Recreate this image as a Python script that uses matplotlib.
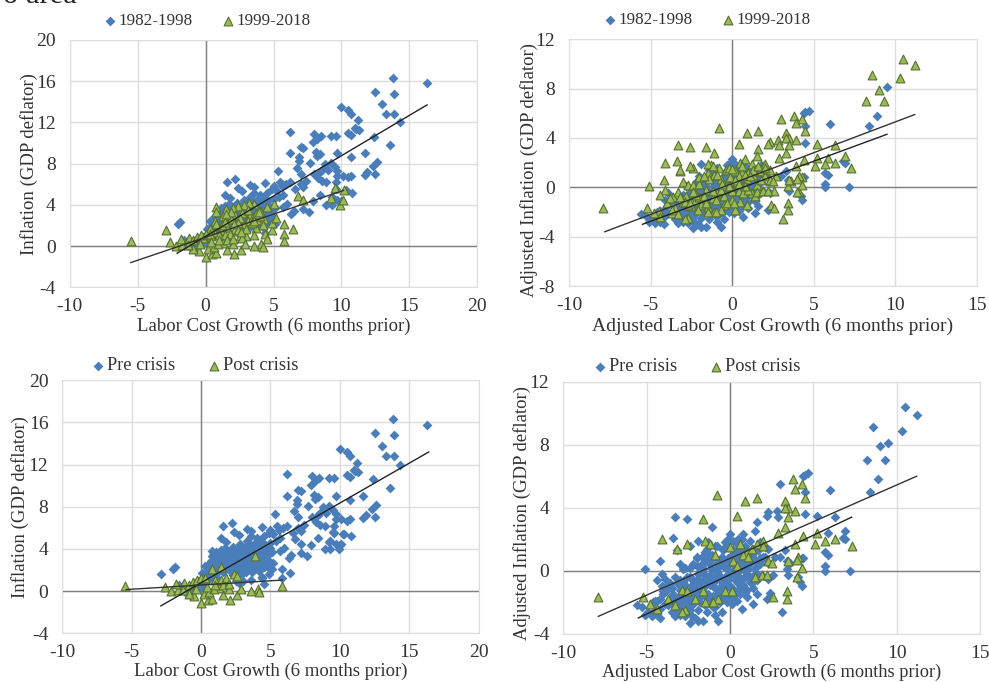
import matplotlib
matplotlib.use('Agg')
from matplotlib import pyplot as plt

plt.rcParams['font.family'] = ['Liberation Serif', 'DejaVu Serif']
plt.rcParams['axes.unicode_minus'] = False

# raw labor cost growth vs inflation
lcg_old = [16.3,13.8,13.9,12.5,13.0,13.3,13.9,14.3,13.6,10.0,10.5,10.7,11.2,11.1,11.0,11.3,10.5,10.7,12.4,6.2,8.0,8.5,8.2,7.9,9.2,9.6,7.0,7.2,6.2,8.1,8.4,8.2,9.7,11.7,10.7,6.9,6.9,7.7,8.8,9.2,12.6,12.3,11.9,11.7,12.5,7.0,6.7,5.3,8.0,8.4,8.6,9.0,9.5,9.7,9.7,10.1,10.5,10.7,8.3,8.6,8.9,9.6,7.4,7.0,6.2,5.9,5.5,5.0,4.4,2.2,1.6,3.3,3.6,2.4,2.7,1.4,1.8,7.2,6.6,5.7,8.4,7.9,9.6,10.3,10.8,9.7,10.0,8.9,9.3,9.3,6.0,5.7,6.5,6.3,7.2,7.6,-2.0,-1.9,-1.3,-1.0,-0.8,-0.5,-0.3,0.0,0.2,0.3,0.5,0.6,0.9,1.0,1.2,1.4,1.5,1.7,1.9,2.0,2.2,2.3,2.5,2.6,2.8,2.9,3.1,3.2,3.3,3.4,3.5,3.6,3.7,3.8,3.9,4.0,4.1,4.2,4.3,4.4,4.5,4.6,4.7,4.8,4.9,5.0,5.1,5.2,5.4,5.6,4.4,5.1,-1.6,-1.1,-0.6,-0.2,0.4,0.8,1.1,1.6,2.1,2.7,3.0,3.4,4.0,4.6,
           0.7,1.0,1.3,1.6,1.9,2.2,2.5,2.8,3.1,3.4,3.7,4.0,4.3,4.6,4.9,0.9,1.2,1.5,1.8,2.1,2.4,2.7,3.0,3.3,3.6,3.9,4.2,4.5,4.8,1.1,1.4,1.7,2.0,2.3,2.6,2.9,3.2,3.5,3.8,4.1,4.4,4.7,1.3,1.6,1.9,2.2,2.5,2.8,3.1,3.4,3.7,4.0,4.3,0.2,0.5,-0.2,-0.5,-0.8,-1.2,0.1]
inf_old = [15.8,16.3,14.8,15.0,13.8,12.8,12.8,12.0,9.8,13.5,13.2,12.8,12.2,11.4,11.5,11.3,11.0,10.8,10.6,11.1,10.9,10.7,10.4,10.1,10.7,10.7,9.6,9.5,9.0,9.1,8.9,8.7,9.0,9.0,8.6,8.6,8.3,8.1,8.0,8.1,8.2,7.8,7.2,6.9,7.0,7.0,7.6,7.3,7.0,7.2,7.4,7.4,7.7,7.3,6.8,6.8,6.7,6.8,6.6,6.3,6.2,6.2,6.3,6.0,6.2,6.0,6.2,5.8,6.1,6.5,6.2,5.9,5.7,5.6,5.3,5.0,4.7,5.7,5.5,5.0,5.0,4.4,5.5,5.4,5.2,4.5,4.4,4.0,4.0,4.8,4.1,3.8,3.4,3.1,3.6,3.3,2.1,2.3,0.5,-0.3,-0.4,0.0,0.5,0.3,1.3,2.4,2.0,2.6,2.9,2.3,3.0,2.7,3.3,2.2,3.4,2.8,3.6,4.2,3.3,2.5,4.5,3.6,2.8,1.8,4.8,3.9,3.0,5.2,2.3,4.5,3.6,5.0,2.9,1.9,3.9,3.1,5.2,4.4,3.4,2.8,5.5,4.6,3.7,5.4,4.8,5.8,1.3,2.1,0.6,0.0,0.7,0.9,1.6,1.8,1.3,2.7,2.5,1.9,2.1,2.6,3.3,2.4,
           2.9,3.2,3.6,3.1,3.9,2.7,3.7,3.2,4.1,3.4,3.9,3.2,3.6,2.9,3.5,2.5,2.8,2.6,3.0,2.4,2.9,2.6,3.1,2.5,2.9,2.6,3.0,2.3,3.0,3.7,3.9,4.1,3.5,3.3,4.0,4.3,3.7,4.4,3.3,4.3,4.7,3.9,2.1,1.8,2.2,2.0,2.2,1.9,2.2,2.1,2.0,2.2,2.4,0.8,1.1,0.2,0.1,-0.1,0.1,1.7]

# green points that fall in the pre crisis group
lcg_mid = [-2.9,5.8,5.8,6.4,4.9,4.9,5.2,5.0,4.5,4.0,3.6,3.2,2.8,2.4,2.0,1.5,0.8,0.8,3.7,4.3,3.8,3.3,2.7,2.2,1.9,0.7,1.1,2.3,2.7,3.1,3.5,2.5,3.0,6.8,7.2,9.5,10.2,9.2,9.9,10.1,4.4,4.5,3.6,0.1,
           0.4,1.0,1.6,2.2,2.8,3.4,4.0,1.3,1.9,2.5,3.1,3.7,0.6,1.2,1.8,2.4,3.0,3.6,4.2,0.3,-0.2,1.5,2.1,2.7]
inf_mid = [1.6,1.2,2.1,1.7,1.6,2.2,2.7,4.1,3.8,3.4,4.1,4.2,4.0,3.9,3.7,3.6,3.8,3.3,1.8,2.6,2.5,3.0,3.2,3.0,2.6,2.4,1.6,1.5,1.5,2.4,2.8,1.0,1.0,4.9,4.5,5.6,5.4,4.7,4.0,4.5,1.2,0.7,1.1,0.9,
           1.0,1.2,1.9,1.7,2.1,2.2,2.9,2.9,3.3,2.7,3.5,3.1,1.4,2.0,0.9,2.2,1.7,2.4,2.0,1.7,0.8,3.1,2.1,0.8]

# post crisis points
lcg_post = [-5.5,-2.6,-2.2,-1.7,-1.8,-1.2,-0.9,-0.6,-0.3,0.0,0.3,0.8,1.4,1.0,1.4,1.8,2.4,2.6,3.9,5.8,4.1,4.2,3.6,2.6,2.1,1.6,0.0,0.5,0.8,0.2,0.6,-0.5,-0.9,2.9,2.0,1.3,0.9,-0.4,1.6,2.0,1.0,0.4,-1.3]
inf_post = [0.5,0.4,0.0,0.1,0.7,0.8,0.6,0.9,1.1,1.2,1.2,2.1,2.3,1.1,1.1,1.2,1.6,1.4,3.3,0.5,0.2,-0.1,0.0,-0.4,-0.8,-0.4,-1.1,-0.8,-0.7,-0.3,-0.1,-0.5,-0.3,0.2,0.2,0.3,0.2,0.2,0.6,0.7,0.6,0.4,0.1]

# adjusted series
adj_x_old = [9.5,8.9,8.4,6.0,4.7,4.5,4.4,4.5,4.5,7.2,5.7,5.7,5.7,5.9,6.9,6.8,4.3,0.0,-0.1,-5.6,-5.3,-5.1,-4.9,-4.7,-4.5,-4.4,-4.2,-4.6,-4.2,-4.1,-3.9,-3.7,-3.5,-3.3,-3.2,-3.0,-2.9,-2.7,-2.4,-2.3,-2.1,-1.9,-1.6,-0.7,-0.9,-0.5,0.1,0.7,1.4,1.6,2.2,-3.8,-3.4,-3.1,-2.8,-2.5,-2.2,-2.0,-1.8,-1.5,-1.3,-1.1,-0.9,-0.6,-0.4,-0.2,0.0,0.2,0.4,0.6,0.8,1.0,1.2,1.4,1.6,1.9,2.3,-3.0,-2.6,-2.3,-1.9,-1.6,-1.3,-1.0,-0.7,-0.3,0.0,0.3,0.5,0.9,1.1,1.5,-2.8,-2.2,-1.7,-1.2,-0.8,-0.5,-0.1,0.3,0.6,1.0,1.3,-1.4,-0.9,-0.4,-2.0,-1.7,0.1,0.4,0.7,0.9,-1.9,-1.2,1.8,3.0,3.5,3.3,3.4,4.2,4.4,
             -4.2,-3.9,-3.6,-3.3,-3.0,-2.7,-2.4,-2.1,-1.8,-1.5,-1.2,-0.9,-0.6,-0.3,0.0,0.3,0.6,0.9,1.2,1.5,1.8,
             -4.4,-4.0,-3.5,-3.1,-2.7,-2.3,-1.9,-1.5,-1.1,-0.8,-0.4,0.0,0.4,0.7,1.1,1.4,1.7,2.1,
             -3.4,-3.0,-2.6,-2.2,-1.8,-1.4,-1.0,-0.7,-0.3,0.1,0.5,0.8,1.2,1.5,-2.9,-2.4,-1.9,-1.4,-1.0,-0.6,-0.2,0.2,0.6,1.0,
             -1.6,-1.2,-0.8,-0.4,0.0,0.3,0.7,1.0,-2.2,-1.8,-1.4,-0.9,-0.5,-0.1,0.3,-0.3,-0.1,0.2,0.5,1.8,2.1]
adj_y_old = [8.1,5.8,5.0,5.1,6.2,6.1,6.0,5.0,3.6,0.0,0.0,0.3,1.2,1.0,2.0,2.1,-1.0,2.3,2.0,-2.2,-2.3,-2.8,-2.6,-2.9,-2.5,-2.8,-3.0,-2.0,-1.8,-1.0,-0.5,-2.2,-2.6,-2.9,-2.4,-2.8,-1.9,-2.9,-3.3,-2.9,-3.0,-3.2,-3.2,-3.2,-2.8,-2.6,-2.1,-2.4,-2.1,-1.5,-1.8,-1.2,-1.5,-1.8,-1.3,-1.9,-2.1,-1.4,-1.7,-2.2,-1.5,-1.9,-2.3,-1.2,-1.6,-2.0,-1.1,-1.5,-1.9,-0.9,-1.3,-1.7,-0.7,-1.1,-0.6,-0.3,-0.5,-0.6,-0.4,-0.9,-0.5,-0.9,-0.4,-0.8,-0.3,-0.7,-0.2,-0.6,-0.1,-0.4,0.1,0.2,0.1,0.4,0.3,0.7,0.5,0.9,0.6,1.1,0.8,1.3,1.0,1.4,1.6,1.3,0.9,0.4,0.5,1.7,2.0,1.6,1.9,1.0,1.8,0.9,-0.3,1.3,0.6,-0.7,0.8,
             -2.4,-2.1,-2.0,-1.7,-1.6,-1.6,-1.4,-1.2,-1.1,-1.0,-0.8,-0.6,-0.5,-0.4,-0.1,0.1,0.2,0.4,0.5,0.7,0.8,
             -1.9,-1.5,-1.1,-0.8,-0.9,-0.5,-0.2,-0.3,0.1,-0.1,0.3,0.5,0.7,1.1,1.2,1.4,1.3,1.5,
             -2.2,-2.1,-2.2,-1.7,-2.0,-1.7,-1.6,-1.5,-1.1,-1.1,-0.8,-0.9,-0.4,-0.2,-2.5,-2.5,-2.5,-2.6,-2.3,-2.0,-1.8,-1.6,-1.5,-1.2,
             0.1,0.4,0.2,0.6,0.9,0.4,0.5,0.9,-0.9,-0.7,-0.6,-1.1,-0.9,-0.6,-0.3,1.8,1.5,1.9,1.4,0.4,0.9]

adj_x_mid = [10.5,11.2,10.3,8.6,9.0,9.3,8.2,3.0,-3.3,-2.6,-1.1,-3.4,-2.4,-3.2,2.3,2.2,2.8,2.9,5.2,6.3,5.9,6.9,3.1,2.4,-5.1,-4.2,-4.1,-4.4,-3.6,-3.3,-3.0,-2.7,-2.4,-2.0,-2.8,-3.7,-4.5,-1.3,-1.5,-1.1,-0.7,-0.4,-0.1,0.2,0.5,0.6,0.9,1.2,1.3,1.6,1.5,0.8,1.7,2.3,2.6,3.4,3.6,4.1,4.3,-0.9,-0.5,0.0,0.4,0.7,1.2,1.6,-1.6,-1.2,-2.3,-1.9,-1.6,
             -4.0,-3.5,-3.0,-2.5,-2.0,-1.5,-1.0,-0.5,0.0,0.5,1.0,1.5,2.0,-3.2,-2.7,-2.2,-1.7,-1.2,-0.7,-0.2,0.3,0.8,1.3,1.8,2.3,-2.0,-1.4,-0.8,-0.2,0.4,1.0,1.9,-3.8,-2.4,-1.7,-0.6,0.2,0.9,1.4,2.7]
adj_y_mid = [10.4,9.9,8.9,9.1,7.9,7.0,7.0,5.5,3.4,3.3,2.8,2.1,1.6,1.3,3.7,3.5,3.8,3.4,3.5,3.4,2.4,2.5,-2.6,-1.4,0.1,0.6,-0.2,-0.6,-0.8,-0.4,0.4,0.2,0.2,0.3,-0.7,-2.1,-1.9,1.8,1.2,1.0,0.7,1.4,0.8,1.3,2.0,1.2,0.7,1.9,1.0,3.1,2.5,2.3,1.3,0.5,-0.3,0.1,0.5,-0.4,0.8,-0.5,-0.7,-0.3,-0.3,-0.5,-0.5,-0.2,-0.2,-0.9,-1.1,-1.4,-1.3,
             -1.3,-1.7,-1.2,-1.5,-0.8,-1.6,-1.0,-1.4,-1.0,-1.2,-0.2,0.2,0.9,-0.8,-1.4,-0.6,-0.7,-0.3,-0.2,0.1,0.4,0.1,1.3,0.6,1.4,0.8,0.7,1.6,1.6,0.9,1.1,1.7,-0.9,-0.4,0.9,0.3,-1.8,-1.4,-0.7,0.9]

adj_x_post = [-7.9,-5.2,-4.1,-0.8,0.9,1.6,3.3,3.8,3.9,4.3,4.5,3.5,3.3,3.9,3.5,0.4,-1.6,-2.6,-3.2,-1.5,-1.2,5.1,5.7,6.3,7.3,5.2,4.4,3.3,2.9,2.0,-2.9,-2.7,-4.8,-4.4,-3.7,-3.3,-2.9,-2.6,-2.1,-1.6,-1.1,-0.7,-0.3,0.1,-1.5,-0.9,0.0,0.2,0.6,1.0,1.3,1.6,2.0,2.3,2.5,3.4,3.5,4.1,4.3,4.0,3.4,3.9,4.0,-1.0,0.4,0.8,1.1,1.5,1.9,2.2,2.6]
adj_y_post = [-1.7,-1.7,2.0,4.8,4.4,4.6,4.4,5.8,5.2,5.5,4.6,4.0,4.0,3.8,3.4,3.5,3.3,1.7,1.4,1.9,1.7,1.7,1.9,2.0,1.6,2.4,2.2,2.8,2.4,1.9,-1.2,-2.5,-2.1,-2.4,-1.8,-2.2,-2.6,-1.3,-1.8,-1.3,-2.0,-1.8,-1.3,-1.3,-2.0,1.0,1.5,0.6,1.7,1.2,1.4,1.7,1.6,0.6,0.5,-1.3,0.6,0.9,0.2,-0.4,-1.8,1.7,0.7,-2.0,0.3,1.0,0.9,-0.4,-0.3,-0.3,-1.7]

# trend line end points
trend_a = ([-2.1, 16.3], [-0.7, 13.7], [-5.5, 10.15], [-1.6, 5.4])
trend_b = ([-5.5, 9.5], [-3.0, 4.3], [-7.8, 11.2], [-3.6, 5.9])
trend_c = ([-2.9, 16.4], [-1.4, 13.2], [-5.4, 5.85], [0.15, 1.05])
trend_d = ([-5.5, 7.3], [-3.0, 3.4], [-7.9, 11.2], [-2.9, 6.0])

x_ticks_raw = [-10, -5, 0, 5, 10, 15, 20]
y_ticks_raw = [-4, 0, 4, 8, 12, 16, 20]
x_ticks_adj = [-10, -5, 0, 5, 10, 15]
y_ticks_top = [-8, -4, 0, 4, 8, 12]
y_ticks_bot = [-4, 0, 4, 8, 12]

W, H = 989, 682
fig = plt.figure(figsize=(W / 100, H / 100), dpi=100)


def panel(box, xs1, ys1, xs2, ys2, trend, xticks, yticks, xlabel, ylabel, names,
          leg_px, xlabel_y, ylabel_px, xsize=13.5, leg_size=12.3):
    left, right, top, bottom = box
    w, h = right - left, bottom - top
    ax = fig.add_axes([left / W, 1 - bottom / H, w / W, h / H])
    ax.set_xlim(xticks[0], xticks[-1])
    ax.set_ylim(yticks[0], yticks[-1])
    ax.set_xticks(xticks)
    ax.set_yticks(yticks)
    ax.grid(color='#dedede', lw=1)
    ax.set_axisbelow(True)
    for s in ax.spines.values():
        s.set_color('#dedede')
    ax.tick_params(length=0, labelsize=14, colors='#333333')
    ax.tick_params(axis='x', pad=8)
    ax.tick_params(axis='y', pad=10)
    ax.axhline(0, color='#808080', lw=1, zorder=1)
    ax.axvline(0, color='#808080', lw=1, zorder=1)
    ax.scatter(xs1, ys1, marker='D', s=25, color='#4a7ebb', lw=0, zorder=2, label=names[0])
    ax.scatter(xs2, ys2, marker='^', s=40, facecolor='#9bbb59', edgecolor='#56702f', lw=0.8, zorder=3, label=names[1])
    ax.plot(trend[0], trend[1], color='#222222', lw=1, zorder=4)
    ax.plot(trend[2], trend[3], color='#333333', lw=1, zorder=4)
    ax.set_xlabel(xlabel, fontsize=xsize, color='#333333', va='center')
    ax.set_ylabel(ylabel, fontsize=13.5, color='#333333', va='center')
    ax.xaxis.set_label_coords(0.5, -(xlabel_y - bottom) / h)
    ax.yaxis.set_label_coords((ylabel_px[0] - left) / w, (bottom - ylabel_px[1]) / h)
    # legend sits above the plot, first marker almost touching its text
    ax.legend(loc='center left', bbox_to_anchor=((leg_px[0] - left) / w, (bottom - leg_px[1]) / h),
              ncol=2, frameon=False, fontsize=leg_size, handlelength=1, handletextpad=0.0,
              columnspacing=1.6, labelcolor='#333333', borderpad=0, borderaxespad=0)


lcg_all_green = lcg_mid + lcg_post
inf_all_green = inf_mid + inf_post
adj_x_all_green = adj_x_mid + adj_x_post
adj_y_all_green = adj_y_mid + adj_y_post

panel((69.7, 477.3, 40, 287.3), lcg_old, inf_old, lcg_all_green, inf_all_green, trend_a,
      x_ticks_raw, y_ticks_raw, 'Labor Cost Growth (6 months prior)', 'Inflation (GDP deflator)',
      ('1982-1998', '1999-2018'), (101, 21), 326, (29, 164))
panel((569, 976.7, 39.3, 286), adj_x_old, adj_y_old, adj_x_all_green, adj_y_all_green, trend_b,
      x_ticks_adj, y_ticks_top, 'Adjusted Labor Cost Growth (6 months prior)', 'Adjusted Inflation (GDP deflator)',
      ('1982-1998', '1999-2018'), (601, 20), 326, (529, 170), xsize=14)
panel((62.3, 478.7, 380.3, 633.3), lcg_old + lcg_mid, inf_old + inf_mid, lcg_post, inf_post, trend_c,
      x_ticks_raw, y_ticks_raw, 'Labor Cost Growth (6 months prior)', 'Inflation (GDP deflator)',
      ('Pre crisis', 'Post crisis'), (89, 366), 671, (20, 507), leg_size=13.2)
panel((563.3, 980, 381.7, 633.7), adj_x_old + adj_x_mid, adj_y_old + adj_y_mid, adj_x_post, adj_y_post, trend_d,
      x_ticks_adj, y_ticks_bot, 'Adjusted Labor Cost Growth (6 months prior)', 'Adjusted Inflation (GDP deflator)',
      ('Pre crisis', 'Post crisis'), (591, 367), 672, (522, 513), xsize=13.2, leg_size=13.2)

# cut off text left over from the page above the chart
fig.text(3 / W, 1 - 3 / H, 'o area', fontsize=22, color='#222222', va='baseline', ha='left')

fig.savefig('out.png', dpi=100)
